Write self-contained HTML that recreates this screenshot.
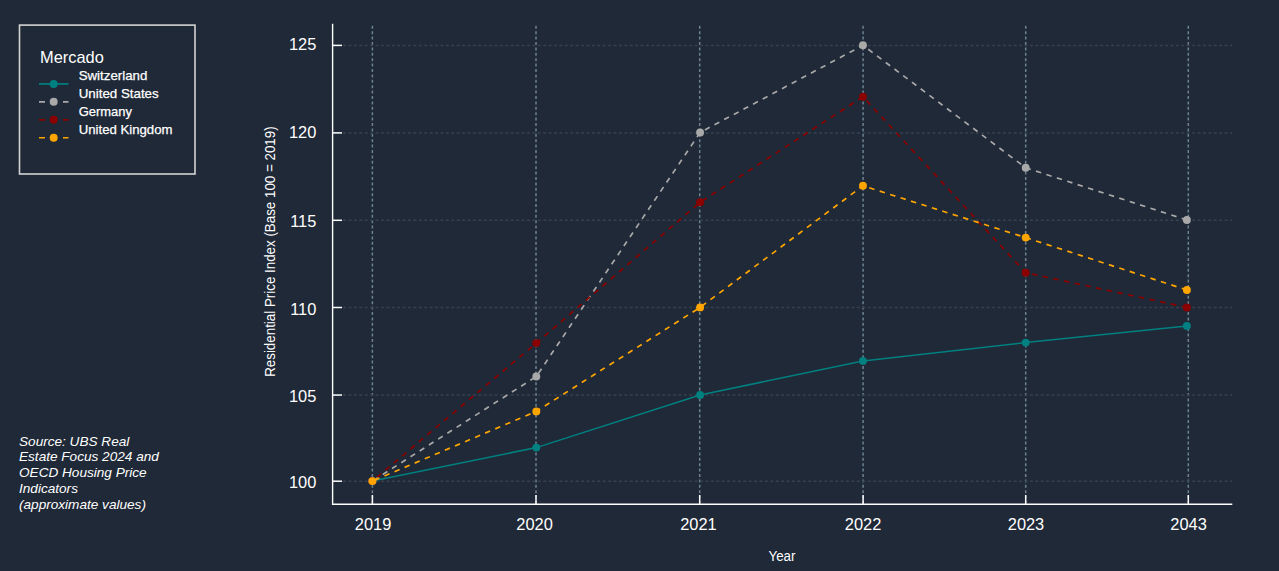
<!DOCTYPE html>
<html><head><meta charset="utf-8">
<style>
html,body{margin:0;padding:0;background:#1f2937;}
body{width:1279px;height:571px;overflow:hidden;}
svg{display:block;}
text{font-family:"Liberation Sans",sans-serif;fill:#ffffff;}
.tk{font-size:16.4px;}
.lb{font-size:14px;}
.lt{font-size:16.4px;}
.ll{font-size:13.6px;stroke:#ffffff;stroke-width:0.25px;}
.src{font-size:13.6px;font-style:italic;}
</style></head>
<body>
<svg width="1279" height="571" viewBox="0 0 1279 571">
<rect width="1279" height="571" fill="#1f2937"/>
<line x1="372.40" y1="25.8" x2="372.40" y2="503" stroke="#6e8290" stroke-width="1.5" stroke-dasharray="3 2.4"/>
<line x1="536.00" y1="25.8" x2="536.00" y2="503" stroke="#6e8290" stroke-width="1.5" stroke-dasharray="3 2.4"/>
<line x1="699.70" y1="25.8" x2="699.70" y2="503" stroke="#6e8290" stroke-width="1.5" stroke-dasharray="3 2.4"/>
<line x1="863.10" y1="25.8" x2="863.10" y2="503" stroke="#6e8290" stroke-width="1.5" stroke-dasharray="3 2.4"/>
<line x1="1025.70" y1="25.8" x2="1025.70" y2="503" stroke="#6e8290" stroke-width="1.5" stroke-dasharray="3 2.4"/>
<line x1="1188.30" y1="25.8" x2="1188.30" y2="503" stroke="#6e8290" stroke-width="1.5" stroke-dasharray="3 2.4"/>
<line x1="343.1" y1="481.20" x2="1232.3" y2="481.20" stroke="#36414f" stroke-width="1.5" stroke-dasharray="3 2.408"/>
<line x1="343.1" y1="395.05" x2="1232.3" y2="395.05" stroke="#36414f" stroke-width="1.5" stroke-dasharray="3 2.408"/>
<line x1="343.1" y1="307.50" x2="1232.3" y2="307.50" stroke="#36414f" stroke-width="1.5" stroke-dasharray="3 2.408"/>
<line x1="343.1" y1="220.30" x2="1232.3" y2="220.30" stroke="#36414f" stroke-width="1.5" stroke-dasharray="3 2.408"/>
<line x1="343.1" y1="132.90" x2="1232.3" y2="132.90" stroke="#36414f" stroke-width="1.5" stroke-dasharray="3 2.408"/>
<line x1="343.1" y1="45.40" x2="1232.3" y2="45.40" stroke="#36414f" stroke-width="1.5" stroke-dasharray="3 2.408"/>
<path d="M332.6 23.8 V504.2 H1232.3" fill="none" stroke="#ffffff" stroke-width="1.4"/>
<line x1="372.40" y1="504" x2="372.40" y2="495" stroke="#ffffff" stroke-width="1.5"/>
<line x1="536.00" y1="504" x2="536.00" y2="495" stroke="#ffffff" stroke-width="1.5"/>
<line x1="699.70" y1="504" x2="699.70" y2="495" stroke="#ffffff" stroke-width="1.5"/>
<line x1="863.10" y1="504" x2="863.10" y2="495" stroke="#ffffff" stroke-width="1.5"/>
<line x1="1025.70" y1="504" x2="1025.70" y2="495" stroke="#ffffff" stroke-width="1.5"/>
<line x1="1188.30" y1="504" x2="1188.30" y2="495" stroke="#ffffff" stroke-width="1.5"/>
<line x1="332.5" y1="481.20" x2="342" y2="481.20" stroke="#ffffff" stroke-width="1.5"/>
<line x1="332.5" y1="395.05" x2="342" y2="395.05" stroke="#ffffff" stroke-width="1.5"/>
<line x1="332.5" y1="307.50" x2="342" y2="307.50" stroke="#ffffff" stroke-width="1.5"/>
<line x1="332.5" y1="220.30" x2="342" y2="220.30" stroke="#ffffff" stroke-width="1.5"/>
<line x1="332.5" y1="132.90" x2="342" y2="132.90" stroke="#ffffff" stroke-width="1.5"/>
<line x1="332.5" y1="45.40" x2="342" y2="45.40" stroke="#ffffff" stroke-width="1.5"/>
<polyline points="1186.90,325.90 1025.70,342.60 862.95,360.90 700.10,395.00 536.30,447.60 372.40,481.10" fill="none" stroke="#008080" stroke-width="1.5"/>
<circle cx="372.40" cy="481.10" r="3.95" fill="#008080"/>
<circle cx="536.30" cy="447.60" r="3.95" fill="#008080"/>
<circle cx="700.10" cy="395.00" r="3.95" fill="#008080"/>
<circle cx="862.95" cy="360.90" r="3.95" fill="#008080"/>
<circle cx="1025.70" cy="342.60" r="3.95" fill="#008080"/>
<circle cx="1186.90" cy="325.90" r="3.95" fill="#008080"/>
<polyline points="1186.90,220.00 1025.70,167.80 862.95,45.30 700.10,132.50 536.30,376.50 372.40,481.10" fill="none" stroke="#a9a9a9" stroke-width="1.7" stroke-dasharray="5.47 5.47"/>
<circle cx="372.40" cy="481.10" r="3.95" fill="#a9a9a9"/>
<circle cx="536.30" cy="376.50" r="3.95" fill="#a9a9a9"/>
<circle cx="700.10" cy="132.50" r="3.95" fill="#a9a9a9"/>
<circle cx="862.95" cy="45.30" r="3.95" fill="#a9a9a9"/>
<circle cx="1025.70" cy="167.80" r="3.95" fill="#a9a9a9"/>
<circle cx="1186.90" cy="220.00" r="3.95" fill="#a9a9a9"/>
<polyline points="1186.90,307.40 1025.70,272.70 862.95,96.70 700.10,202.30 536.30,343.10 372.40,481.10" fill="none" stroke="#8b0000" stroke-width="1.7" stroke-dasharray="5.47 5.47"/>
<circle cx="372.40" cy="481.10" r="3.95" fill="#8b0000"/>
<circle cx="536.30" cy="343.10" r="3.95" fill="#8b0000"/>
<circle cx="700.10" cy="202.30" r="3.95" fill="#8b0000"/>
<circle cx="862.95" cy="96.70" r="3.95" fill="#8b0000"/>
<circle cx="1025.70" cy="272.70" r="3.95" fill="#8b0000"/>
<circle cx="1186.90" cy="307.40" r="3.95" fill="#8b0000"/>
<polyline points="1186.90,290.00 1025.70,237.60 862.95,185.80 700.10,307.40 536.30,411.40 372.40,481.10" fill="none" stroke="#ffa500" stroke-width="1.7" stroke-dasharray="5.47 5.47"/>
<circle cx="372.40" cy="481.10" r="3.95" fill="#ffa500"/>
<circle cx="536.30" cy="411.40" r="3.95" fill="#ffa500"/>
<circle cx="700.10" cy="307.40" r="3.95" fill="#ffa500"/>
<circle cx="862.95" cy="185.80" r="3.95" fill="#ffa500"/>
<circle cx="1025.70" cy="237.60" r="3.95" fill="#ffa500"/>
<circle cx="1186.90" cy="290.00" r="3.95" fill="#ffa500"/>
<text x="316.3" y="487.60" text-anchor="end" class="tk">100</text>
<text x="316.3" y="402.40" text-anchor="end" class="tk">105</text>
<text x="316.3" y="314.80" text-anchor="end" class="tk">110</text>
<text x="316.3" y="226.50" text-anchor="end" class="tk">115</text>
<text x="316.3" y="137.60" text-anchor="end" class="tk">120</text>
<text x="316.3" y="49.60" text-anchor="end" class="tk">125</text>
<text x="373.10" y="529.6" text-anchor="middle" class="tk">2019</text>
<text x="534.60" y="529.6" text-anchor="middle" class="tk">2020</text>
<text x="698.40" y="529.6" text-anchor="middle" class="tk">2021</text>
<text x="863.10" y="529.6" text-anchor="middle" class="tk">2022</text>
<text x="1026.00" y="529.6" text-anchor="middle" class="tk">2023</text>
<text x="1188.60" y="529.6" text-anchor="middle" class="tk">2043</text>
<text x="782" y="560.6" text-anchor="middle" class="lb" textLength="27" lengthAdjust="spacingAndGlyphs">Year</text>
<text transform="translate(275.0 251.6) rotate(-90)" text-anchor="middle" class="lb" textLength="250.5" lengthAdjust="spacingAndGlyphs">Residential Price Index (Base 100 = 2019)</text>
<rect x="19.5" y="25.1" width="175.5" height="148.9" fill="none" stroke="#d3d3d3" stroke-width="1.6"/>
<text x="40" y="62.5" class="lt">Mercado</text>
<line x1="39" y1="83.90" x2="68.5" y2="83.90" stroke="#008080" stroke-width="1.7"/>
<circle cx="53.7" cy="83.90" r="4" fill="#008080"/>
<text x="78.7" y="79.90" class="ll" textLength="68.6" lengthAdjust="spacingAndGlyphs">Switzerland</text>
<line x1="39" y1="101.85" x2="68.5" y2="101.85" stroke="#a9a9a9" stroke-width="1.7" stroke-dasharray="6 6"/>
<circle cx="53.7" cy="101.85" r="4" fill="#a9a9a9"/>
<text x="78.7" y="97.85" class="ll" textLength="80.0" lengthAdjust="spacingAndGlyphs">United States</text>
<line x1="39" y1="119.80" x2="68.5" y2="119.80" stroke="#8b0000" stroke-width="1.7" stroke-dasharray="6 6"/>
<circle cx="53.7" cy="119.80" r="4" fill="#8b0000"/>
<text x="78.7" y="115.80" class="ll" textLength="53.2" lengthAdjust="spacingAndGlyphs">Germany</text>
<line x1="39" y1="137.75" x2="68.5" y2="137.75" stroke="#ffa500" stroke-width="1.7" stroke-dasharray="6 6"/>
<circle cx="53.7" cy="137.75" r="4" fill="#ffa500"/>
<text x="78.7" y="133.75" class="ll" textLength="93.8" lengthAdjust="spacingAndGlyphs">United Kingdom</text>
<text x="19" y="445.50" class="src">Source: UBS Real</text>
<text x="19" y="461.30" class="src">Estate Focus 2024 and</text>
<text x="19" y="477.10" class="src">OECD Housing Price</text>
<text x="19" y="492.90" class="src">Indicators</text>
<text x="19" y="508.70" class="src">(approximate values)</text>
</svg>
</body></html>
